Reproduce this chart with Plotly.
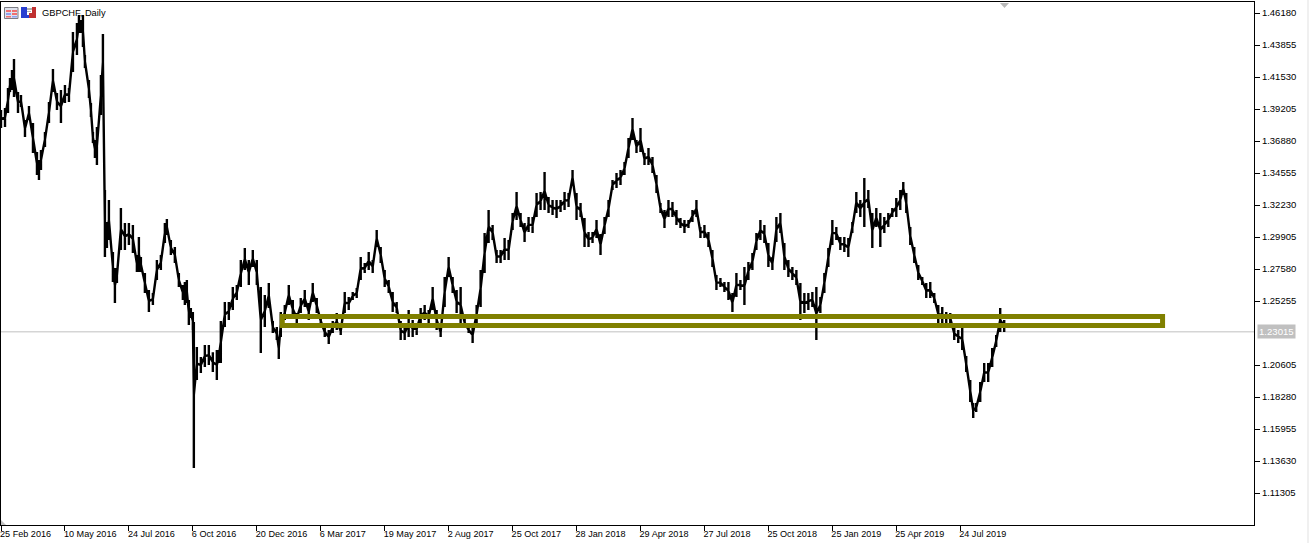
import plotly.graph_objects as go

symbol = "GBPCHF, Daily"
bid = 1.23015
zone_top = 1.24129
zone_bottom = 1.23475
zone_start = 281.5
zone_end = 1162.5

price_ticks = [1.46180, 1.43855, 1.41530, 1.39205, 1.36880, 1.34555, 1.32230, 1.29905,
               1.27580, 1.25255, 1.20605, 1.18280, 1.15955, 1.13630, 1.11305]
date_ticks = [0, 64, 128, 192, 256, 320, 384, 448, 512, 576, 640, 704, 768, 832, 896, 960]
date_labels = ["25 Feb 2016", "10 May 2016", "24 Jul 2016", "6 Oct 2016", "20 Dec 2016",
               "6 Mar 2017", "19 May 2017", "2 Aug 2017", "25 Oct 2017", "28 Jan 2018",
               "29 Apr 2018", "27 Jul 2018", "25 Oct 2018", "25 Jan 2019", "25 Apr 2019",
               "24 Jul 2019"]

bars = [0,4,7,9,11,13,17,20,24,28,32,36,38,40,44,48,52,56,60,64,68,72,76,78,80,82,84,88,90,92,94,96,100,102,
        104,106,108,112,114,116,120,124,128,132,136,138,140,144,148,152,156,160,164,166,170,174,178,182,184,186,
        188,190,192,193,196,200,204,208,212,216,218,220,224,228,232,236,240,244,248,252,256,260,264,268,272,276,
        278,280,284,288,292,296,300,304,308,312,316,320,324,328,332,336,340,344,348,352,356,360,364,368,372,376,
        380,384,388,392,396,400,404,408,412,416,420,424,428,432,436,440,444,448,452,456,460,464,468,472,476,480,
        484,488,492,496,500,504,508,512,516,520,524,528,532,536,540,544,548,552,556,560,564,568,572,576,580,584,
        588,592,596,600,604,608,612,616,620,624,628,632,636,640,644,648,652,656,660,664,668,672,676,680,684,688,
        692,696,700,704,708,712,716,720,724,728,732,736,740,744,748,752,756,760,764,768,772,776,780,784,788,792,
        796,800,804,808,812,816,820,824,828,832,836,840,844,848,852,856,860,864,868,872,876,880,884,888,892,896,
        900,903,906,910,914,918,922,926,930,934,938,942,946,950,954,958,962,966,970,973,976,980,984,988,992,996,
        1000,1004]

highs = [1.3913,1.3928,1.4073,1.4146,1.4204,1.4284,1.4044,1.4022,1.3841,1.3942,1.3819,1.3608,1.3550,1.3623,1.3753,1.3971,1.4211,1.4037,1.4059,1.4095,1.4073,1.4480,1.4545,1.4603,1.4567,1.4603,1.4313,1.4131,1.3964,1.3753,1.3695,1.3790,1.4167,1.4465,
         1.3332,1.3099,1.3259,1.2882,1.2765,1.2765,1.3201,1.3092,1.3092,1.3078,1.2860,1.2990,1.2845,1.2729,1.2605,1.2584,1.2823,1.2860,1.3092,1.3121,1.2969,1.2918,1.2729,1.2642,1.2664,1.2678,
         1.2533,1.2475,1.2445,1.2373,1.2191,1.2118,1.2205,1.2205,1.2154,1.2169,1.2169,1.2380,1.2518,1.2518,1.2627,1.2642,1.2823,1.2911,1.2823,1.2896,1.2823,1.2627,1.2569,1.2656,1.2380,1.2336,
         1.2257,1.2445,1.2496,1.2642,1.2533,1.2438,1.2547,1.2605,1.2511,1.2656,1.2547,1.2424,1.2336,1.2315,1.2380,1.2438,1.2336,1.2591,1.2555,1.2591,1.2620,1.2845,1.2802,1.2882,1.2823,1.3041,
         1.2918,1.2751,1.2678,1.2591,1.2518,1.2380,1.2344,1.2460,1.2387,1.2365,1.2475,1.2496,1.2460,1.2627,1.2460,1.2336,1.2700,1.2845,1.2700,1.2605,1.2627,1.2402,1.2336,1.2336,1.2496,1.2751,
         1.3020,1.3187,1.3078,1.2896,1.2896,1.2983,1.2969,1.3165,1.3318,1.3165,1.3092,1.3136,1.3136,1.3310,1.3318,1.3463,1.3281,1.3259,1.3259,1.3259,1.3318,1.3310,1.3477,1.3310,1.3237,1.3129,
         1.3027,1.3027,1.3114,1.3012,1.3136,1.3259,1.3405,1.3455,1.3477,1.3535,1.3710,1.3855,1.3695,1.3782,1.3601,1.3637,1.3572,1.3441,1.3237,1.3187,1.3259,1.3245,1.3187,1.3129,1.3114,1.3114,
         1.3187,1.3259,1.3063,1.3078,1.3027,1.2896,1.2714,1.2693,1.2664,1.2664,1.2584,1.2729,1.2678,1.2773,1.2809,1.2874,1.3020,1.3114,1.3078,1.2947,1.2845,1.3136,1.3165,1.2947,1.2823,1.2773,
         1.2751,1.2656,1.2584,1.2584,1.2591,1.2627,1.2555,1.2729,1.2911,1.3114,1.3063,1.2990,1.2990,1.2983,1.3099,1.3318,1.3259,1.3419,1.3332,1.3165,1.3201,1.3165,1.3136,1.3165,1.3201,1.3274,
         1.3332,1.3390,1.3310,1.3063,1.2918,1.2787,1.2700,1.2656,1.2664,1.2584,1.2496,1.2482,1.2445,1.2438,1.2336,1.2315,1.2329,1.2126,1.1951,1.1784,1.1784,1.1937,1.2075,1.2075,1.2184,1.2278,
         1.2475,1.2387]

lows = [1.3783,1.3790,1.3891,1.4044,1.4059,1.4008,1.3891,1.3935,1.3717,1.3841,1.3601,1.3441,1.3405,1.3477,1.3645,1.3819,1.4044,1.3913,1.3819,1.3964,1.3971,1.4189,1.4313,1.4473,1.4473,1.4371,1.4218,1.4000,1.3862,1.3673,1.3564,1.3513,1.3877,1.4059,
        1.2845,1.2910,1.2969,1.2664,1.2511,1.2656,1.2896,1.2896,1.2932,1.2874,1.2736,1.2736,1.2736,1.2584,1.2445,1.2496,1.2678,1.2751,1.2947,1.3005,1.2860,1.2802,1.2627,1.2533,1.2496,1.2511,
        1.2351,1.2402,1.2315,1.1312,1.1951,1.2002,1.2046,1.2060,1.2009,1.1951,1.2075,1.2075,1.2336,1.2387,1.2460,1.2533,1.2627,1.2751,1.2642,1.2773,1.2642,1.2148,1.2336,1.2475,1.2293,1.2242,
        1.2104,1.2264,1.2387,1.2496,1.2402,1.2365,1.2438,1.2482,1.2387,1.2518,1.2438,1.2336,1.2264,1.2213,1.2293,1.2315,1.2279,1.2438,1.2460,1.2533,1.2547,1.2678,1.2729,1.2751,1.2729,1.2918,
        1.2802,1.2627,1.2584,1.2445,1.2438,1.2242,1.2242,1.2264,1.2264,1.2279,1.2365,1.2387,1.2365,1.2460,1.2315,1.2264,1.2482,1.2700,1.2584,1.2438,1.2365,1.2336,1.2293,1.2220,1.2365,1.2482,
        1.2729,1.2947,1.2969,1.2802,1.2802,1.2823,1.2823,1.3041,1.3114,1.3063,1.2954,1.3027,1.3020,1.3136,1.3187,1.3187,1.3165,1.3150,1.3129,1.3172,1.3187,1.3208,1.3368,1.3114,1.3136,1.2918,
        1.2918,1.2947,1.2983,1.2860,1.3012,1.3136,1.3332,1.3347,1.3368,1.3441,1.3564,1.3695,1.3601,1.3608,1.3513,1.3513,1.3455,1.3310,1.3165,1.3056,1.3136,1.3136,1.3078,1.3056,1.3020,1.3056,
        1.3099,1.3136,1.2983,1.2983,1.2918,1.2773,1.2605,1.2627,1.2591,1.2533,1.2445,1.2555,1.2605,1.2496,1.2678,1.2751,1.2896,1.2969,1.2947,1.2773,1.2751,1.2954,1.3020,1.2751,1.2700,1.2678,
        1.2642,1.2387,1.2438,1.2460,1.2482,1.2242,1.2438,1.2584,1.2773,1.2932,1.2969,1.2896,1.2882,1.2845,1.3020,1.3165,1.3136,1.3063,1.3201,1.2911,1.3063,1.2918,1.3020,1.3063,1.3136,1.3136,
        1.3187,1.3296,1.3165,1.2932,1.2802,1.2678,1.2642,1.2547,1.2547,1.2511,1.2365,1.2365,1.2365,1.2365,1.2242,1.2220,1.2169,1.2009,1.1792,1.1675,1.1719,1.1792,1.1937,1.1937,1.2046,1.2191,
        1.2300,1.2300]

PX_RIGHT = 1254
TOP_PRICE = 1.46979
BOTTOM_PRICE = 1.08980
MARGIN = dict(l=1, r=55, t=2, b=18, pad=0)
W, H = 1309, 543
FONT = "Liberation Sans"


def xp(px):
    return (px - MARGIN["l"]) / (W - MARGIN["l"] - MARGIN["r"])


def yp(py):
    return 1 - (py - MARGIN["t"]) / (H - MARGIN["t"] - MARGIN["b"])


path_x, path_y = [], []
for b, hi, lo in zip(bars, highs, lows):
    mid = (hi + lo) / 2
    path_x += [b, b, b, b]
    path_y += [mid, hi, lo, mid]

fig = go.Figure()
fig.add_trace(go.Scatter(x=path_x, y=path_y, mode="lines", showlegend=False, hoverinfo="skip",
                         line=dict(color="#000000", width=2.4, simplify=False)))


def box(x0, y0, x1, y1, fill, line=None):
    return dict(type="rect", xref="paper", yref="paper", x0=xp(x0), x1=xp(x1), y0=yp(y1), y1=yp(y0),
                fillcolor=fill, line=dict(color=line or fill, width=1 if line else 0), layer="above")


shapes = [
    dict(type="line", xref="x", yref="y", x0=0, x1=PX_RIGHT, y0=bid, y1=bid,
         line=dict(color="#c0c0c0", width=1), layer="below"),
    dict(type="rect", xref="x", yref="y", x0=zone_start, x1=zone_end, y0=zone_bottom, y1=zone_top,
         line=dict(color="#808000", width=5), fillcolor="rgba(0,0,0,0)", layer="above"),
    # icons in the top-left corner
    box(4.5, 7.5, 18, 18.5, "#dfe3ee", "#7c7c84"),
    box(6, 10, 11, 12, "#f07070"), box(12, 10, 17, 12, "#f07070"),
    box(6, 13, 11, 15, "#8fa0f0"), box(12, 13, 17, 15, "#f07070"),
    box(6, 16, 11, 17.5, "#f07070"), box(12, 16, 17, 17.5, "#8fa0f0"),
    box(21, 7, 27, 18, "#2a3fd0"), box(27, 15, 29, 18, "#2a3fd0"),
    box(29, 13, 36, 18, "#c03030"), box(32, 7, 36, 13, "#c03030"),
    box(27, 8, 32, 10, "#b0b0b0"), box(27, 11, 31, 12, "#b0b0b0"),
    # right edge strip
    box(1307, 0, 1309, 543, "#f0f0f0"),
    # marker at the top and corner marker at the bottom
    dict(type="path", xref="paper", yref="paper", layer="above", line=dict(width=0), fillcolor="#b8b8b8",
         path=f"M {xp(1000)} {yp(3)} L {xp(1009)} {yp(3)} L {xp(1004.5)} {yp(8)} Z"),
    dict(type="path", xref="paper", yref="paper", layer="above", line=dict(width=0), fillcolor="#c0c0c0",
         path=f"M {xp(1)} {yp(520)} L {xp(6)} {yp(525)} L {xp(1)} {yp(525)} Z"),
]

annotations = [
    dict(text=symbol, xref="paper", yref="paper", x=xp(39.5), y=yp(12.5), xanchor="left", yanchor="middle",
         showarrow=False, font=dict(family=FONT, size=9.3, color="#000000")),
    dict(text=f"{bid:.5f}", xref="paper", yref="y", x=xp(1257), y=bid, xanchor="left", yanchor="middle",
         showarrow=False, bgcolor="#c0c0c0", borderpad=1,
         font=dict(family=FONT, size=9.6, color="#ffffff")),
]

fig.update_layout(
    width=W, height=H, autosize=False, margin=MARGIN,
    paper_bgcolor="#ffffff", plot_bgcolor="#ffffff", showlegend=False,
    font=dict(family=FONT, size=9.5, color="#000000"),
    shapes=shapes, annotations=annotations,
    xaxis=dict(range=[0, PX_RIGHT], showgrid=False, zeroline=False, showline=True, linecolor="#000000",
               linewidth=1, mirror=True, ticks="outside", ticklen=5, tickcolor="#000000", tickwidth=1,
               tickmode="array", tickvals=date_ticks, ticktext=date_labels,
               ticklabelposition="outside right", ticklabelshift=-2, tickangle=0,
               tickfont=dict(family=FONT, size=9.1, color="#000000")),
    yaxis=dict(range=[BOTTOM_PRICE, TOP_PRICE], side="right", showgrid=False, zeroline=False, showline=True,
               linecolor="#000000", linewidth=1, mirror=True, ticks="outside", ticklen=5,
               tickcolor="#000000", tickwidth=1, tickmode="array", tickvals=price_ticks,
               ticktext=[f"{t:.5f}" for t in price_ticks]),
)

fig.write_html("out.html", config={"displayModeBar": False},
               post_script="document.body.style.margin='0';document.documentElement.style.overflow='hidden';")
